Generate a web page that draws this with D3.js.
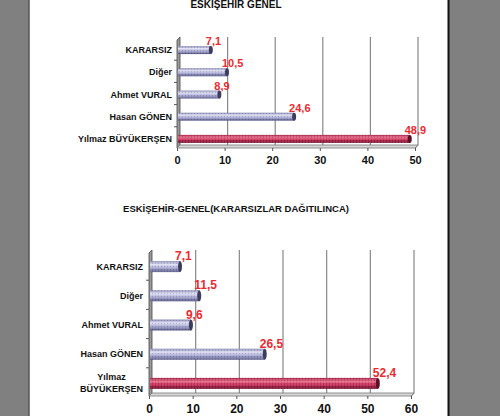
<!DOCTYPE html>
<html>
<head>
<meta charset="utf-8">
<script src="https://cdn.jsdelivr.net/npm/d3@7"></script>
<style>
  body { margin: 0; background: #808080; }
  svg { display: block; }
</style>
</head>
<body>
<svg id="chart" width="500" height="416"></svg>
<script>
// candidates and vote shares (percent)
var candidates = ["KARARSIZ", "Diğer", "Ahmet VURAL", "Hasan GÖNEN", "Yılmaz BÜYÜKERŞEN"];
var genelValues = [7.1, 10.5, 8.9, 24.6, 48.9];
var dagitilincaValues = [7.1, 11.5, 9.6, 26.5, 52.4];
var genelTicks = [0, 10, 20, 30, 40, 50];
var dagitilincaTicks = [0, 10, 20, 30, 40, 50, 60];
var titles = ["ESKİŞEHİR GENEL", "ESKİŞEHİR-GENEL(KARARSIZLAR DAĞITILINCA)"];

var svg = d3.select("svg#chart");
var fmt = function(v){ return v.toFixed(1).replace(".", ","); };

// page background
svg.append("rect").attr("x", 0).attr("y", 0).attr("width", 500).attr("height", 416).attr("fill", "#808080");
svg.append("rect").attr("x", 29).attr("y", 0).attr("width", 419).attr("height", 416).attr("fill", "#ffffff");
svg.append("line").attr("x1", 29).attr("x2", 29).attr("y1", 0).attr("y2", 416).attr("stroke", "#555").attr("stroke-width", 1.5);
svg.append("line").attr("x1", 448.5).attr("x2", 448.5).attr("y1", 0).attr("y2", 416).attr("stroke", "#111").attr("stroke-width", 2);

//#region gradients and pattern
var defs = svg.append("defs");
function cylinder(id, stops){
    var g = defs.append("linearGradient").attr("id", id).attr("x1", 0).attr("x2", 0).attr("y1", 0).attr("y2", 1);
    stops.forEach(function(s){ g.append("stop").attr("offset", s[0]).attr("stop-color", s[1]); });
}
cylinder("blueBar", [[0, "#8686b4"], [0.3, "#e0e0f4"], [0.6, "#acacd6"], [1, "#565686"]]);
cylinder("redBar", [[0, "#a01840"], [0.3, "#e8708c"], [0.6, "#c8305a"], [1, "#6a0c28"]]);
var pat = defs.append("pattern").attr("id", "dots").attr("width", 3).attr("height", 3).attr("patternUnits", "userSpaceOnUse");
pat.append("circle").attr("cx", 1).attr("cy", 1).attr("r", 0.6).attr("fill", "#ffffff").attr("fill-opacity", 0.45);
pat.append("circle").attr("cx", 2.5).attr("cy", 2.5).attr("r", 0.5).attr("fill", "#000").attr("fill-opacity", 0.2);
//#endregion

function drawChart(cfg){
    var x = d3.scaleLinear().domain([0, cfg.ticks[cfg.ticks.length - 1]]).range([cfg.left, cfg.right]);
    var y = d3.scaleBand().domain(candidates).range([cfg.top + 2, cfg.bottom + 2]);
    var depth = 3;
    var g = svg.append("g");

    // title
    g.append("text").attr("x", 236).attr("y", cfg.titleY)
        .attr("text-anchor", "middle").attr("font-family", "Liberation Sans, Arial, sans-serif")
        .attr("font-weight", "bold").attr("font-size", cfg.titleSize).attr("fill", "#111")
        .text(cfg.title);

    // back wall gridlines with a small floor slant
    g.selectAll("path.grid").data(cfg.ticks.slice(1)).join("path").attr("class", "grid")
        .attr("d", function(d){
            return "M" + (x(d) + depth) + "," + cfg.top + "V" + (cfg.bottom - depth) + "L" + x(d) + "," + cfg.bottom;
        })
        .attr("fill", "none").attr("stroke", "#888").attr("stroke-width", 1.2);

    // left wall
    g.append("path")
        .attr("d", "M" + cfg.left + "," + (cfg.top + depth) + "L" + (cfg.left + depth) + "," + cfg.top +
            "V" + (cfg.bottom - depth) + "L" + cfg.left + "," + cfg.bottom + "Z")
        .attr("fill", "#9a9a9a").attr("stroke", "#444").attr("stroke-width", 0.8);

    // floor
    g.append("path")
        .attr("d", "M" + cfg.left + "," + cfg.bottom + "L" + (cfg.left + depth) + "," + (cfg.bottom - depth) +
            "H" + (cfg.right + depth) + "L" + cfg.right + "," + cfg.bottom + "Z")
        .attr("fill", "#d8d8d8").attr("stroke", "#777").attr("stroke-width", 0.8);

    // category separators on left axis
    g.selectAll("line.sep").data(candidates.slice(1)).join("line").attr("class", "sep")
        .attr("x1", cfg.left - 3).attr("x2", cfg.left)
        .attr("y1", function(d){ return y(d) - 1; }).attr("y2", function(d){ return y(d) - 1; })
        .attr("stroke", "#555");

    // bars
    var bh = cfg.barHeight;
    var bars = g.selectAll("g.bar").data(cfg.values).join("g").attr("class", "bar");
    bars.append("rect")
        .attr("x", cfg.left + 1)
        .attr("y", function(d, i){ return y(candidates[i]) + y.bandwidth() / 2 - bh / 2; })
        .attr("width", function(d){ return x(d) - cfg.left - 1; })
        .attr("height", bh)
        .attr("fill", function(d, i){ return i == 4 ? "url(#redBar)" : "url(#blueBar)"; });
    bars.append("rect")
        .attr("x", cfg.left + 1)
        .attr("y", function(d, i){ return y(candidates[i]) + y.bandwidth() / 2 - bh / 2; })
        .attr("width", function(d){ return x(d) - cfg.left - 1; })
        .attr("height", bh)
        .attr("fill", "url(#dots)");
    bars.append("ellipse")
        .attr("cx", function(d){ return x(d); })
        .attr("cy", function(d, i){ return y(candidates[i]) + y.bandwidth() / 2; })
        .attr("rx", 2).attr("ry", bh / 2)
        .attr("fill", function(d, i){ return i == 4 ? "#5a1024" : "#3c3c5c"; });

    // value labels
    g.selectAll("text.val").data(cfg.values).join("text").attr("class", "val")
        .attr("x", function(d){ return x(d) - 5; })
        .attr("y", function(d, i){ return y(candidates[i]) + y.bandwidth() / 2 - bh / 2 - 1; })
        .attr("font-family", "Liberation Sans, Arial, sans-serif").attr("font-size", cfg.valSize)
        .attr("font-weight", "bold").attr("fill", "#ec2a30")
        .text(function(d){ return fmt(d); });

    // category labels
    var labels = g.selectAll("text.cat").data(candidates).join("text").attr("class", "cat")
        .attr("font-family", "Liberation Sans, Arial, sans-serif").attr("font-weight", "bold")
        .attr("font-size", cfg.catSize).attr("fill", "#111")
        .attr("text-anchor", "end")
        .attr("x", cfg.labelX)
        .attr("y", function(d){ return y(d) + y.bandwidth() / 2 + 3; });
    labels.each(function(d){
        var t = d3.select(this);
        if(cfg.wrap && d == candidates[4]){
            var parts = d.split(" ");
            var second = t.append("tspan").text(parts[1]);
            var w = second.node().getComputedTextLength();
            second.remove();
            t.attr("text-anchor", "middle").attr("x", cfg.labelX - w / 2)
                .attr("y", y(d) + y.bandwidth() / 2 - 3);
            t.append("tspan").attr("x", cfg.labelX - w / 2).text(parts[0]);
            t.append("tspan").attr("x", cfg.labelX - w / 2).attr("dy", 12).text(parts[1]);
        }else{
            t.text(d);
        }
    });

    // value axis
    var axis = d3.axisBottom(x).tickValues(cfg.ticks).tickSize(3).tickFormat(d3.format("d"));
    var ax = g.append("g").attr("transform", "translate(0," + cfg.bottom + ")").call(axis);
    ax.select(".domain").remove();
    ax.selectAll("line").attr("stroke", "#555");
    ax.selectAll("text").attr("font-family", "Liberation Sans, Arial, sans-serif")
        .attr("font-weight", "bold").attr("font-size", cfg.tickSize).attr("fill", "#111").attr("dy", "0.9em");
}

drawChart({title: titles[0], titleY: 8, titleSize: 10, values: genelValues, ticks: genelTicks,
    left: 177, right: 415, top: 37, bottom: 148, barHeight: 8, labelX: 172, wrap: false,
    catSize: 9, valSize: 11, tickSize: 11});
drawChart({title: titles[1], titleY: 212, titleSize: 9.5, values: dagitilincaValues, ticks: dagitilincaTicks,
    left: 149, right: 411, top: 250, bottom: 396, barHeight: 11, labelX: 143, wrap: true,
    catSize: 9, valSize: 12, tickSize: 12});
</script>
</body>
</html>
